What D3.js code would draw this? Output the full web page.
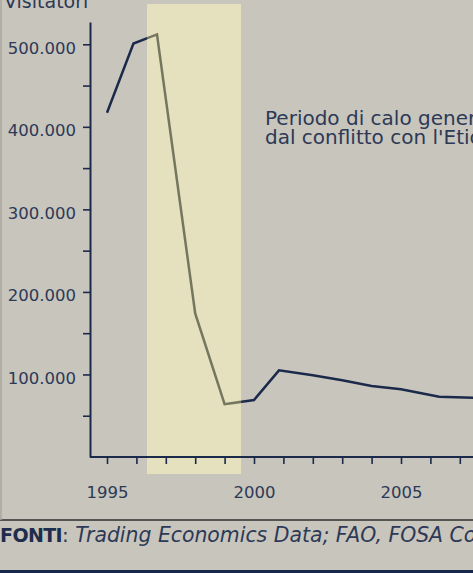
<!DOCTYPE html>
<html>
<head>
<meta charset="utf-8">
<script src="https://cdn.jsdelivr.net/npm/d3@7"></script>
<style>
  html, body { margin: 0; padding: 0; background: #c8c5bc; }
  svg { display: block; font-family: "DejaVu Sans", sans-serif; }
</style>
</head>
<body>
<svg width="473" height="573"></svg>
<script>
// visitors per year
const years = [1995, 1995.9, 1996.7, 1998, 1999, 2000, 2000.85, 2002, 2003, 2004, 2005, 2006.3, 2008];
const visitors = [417000, 501000, 512000, 174000, 64000, 69000, 105000, 99000, 93000, 86000, 82000, 73000, 71000];

const xTicks = d3.range(1995, 2008);
const xLabels = [1995, 2000, 2005];
const yTicks = d3.range(50000, 500001, 50000);

const highlight = [1996.36, 1999.56];
const noteLines = ["Periodo di calo generato", "dal conflitto con l'Etiopia"];
const yTitle = "Visitatori";
const sourceBold = "FONTI";
const sourceText = "Trading Economics Data; FAO, FOSA Country Report";

const navy = '#1b2a4b';
const textCol = '#2c3957';

const svg = d3.select('svg');

svg.append('rect')
    .attr('width', 473).attr('height', 573)
    .attr('fill', '#c8c5bc');

const x = d3.scaleLinear().domain([1995, 2000]).range([107, 254]);
const y = d3.scaleLinear().domain([0, 527000]).range([457, 22]);

const it = d3.formatLocale({decimal: ',', thousands: '.', grouping: [3], currency: ['€', '']});
const fmt = it.format(',');

const data = years.map((yr, i) => ({year: yr, value: visitors[i]}));

const line = d3.line()
    .x(d => x(d.year))
    .y(d => y(d.value));

// line under the highlight band
svg.append('path')
    .datum(data)
    .attr('d', line)
    .attr('fill', 'none')
    .attr('stroke', navy)
    .attr('stroke-width', 2.5)
    .attr('stroke-linejoin', 'miter');

// highlight band
svg.append('rect')
    .attr('x', x(highlight[0]))
    .attr('y', 4)
    .attr('width', x(highlight[1]) - x(highlight[0]))
    .attr('height', 470)
    .attr('fill', '#e5e0be');

svg.append('clipPath').attr('id', 'band')
  .append('rect')
    .attr('x', x(highlight[0]))
    .attr('y', 4)
    .attr('width', x(highlight[1]) - x(highlight[0]))
    .attr('height', 470);

svg.append('path')
    .datum(data)
    .attr('clip-path', 'url(#band)')
    .attr('d', line)
    .attr('fill', 'none')
    .attr('stroke', '#75765f')
    .attr('stroke-width', 2.5);

// axes
const yAxis = d3.axisLeft(y)
    .tickValues(yTicks)
    .tickSize(7)
    .tickSizeOuter(0)
    .tickPadding(7)
    .tickFormat(d => d % 100000 === 0 ? fmt(d) : '');

const gy = svg.append('g')
    .attr('transform', 'translate(90,0)')
    .call(yAxis);

const xAxis = d3.axisBottom(x)
    .tickValues(xTicks)
    .tickSize(7)
    .tickSizeOuter(0)
    .tickPadding(22)
    .tickFormat(d => xLabels.includes(d) ? d : '');

const gx = svg.append('g')
    .attr('transform', 'translate(0,457)')
    .call(xAxis);

gx.select('.domain').attr('d', 'M90,0H473');

[gx, gy].forEach(g => {
    g.select('.domain').attr('stroke', navy).attr('stroke-width', 2);
    g.selectAll('.tick line').attr('stroke', navy).attr('stroke-width', 1.6);
    g.selectAll('.tick text')
        .attr('fill', textCol)
        .style('font-family', '"DejaVu Sans", sans-serif')
        .style('font-size', '16.5px');
});
gy.selectAll('.tick text').attr('dy', '0.55em');

// titles and notes
svg.append('text')
    .attr('x', 4).attr('y', 8)
    .attr('fill', textCol)
    .style('font-size', '19px')
    .text(yTitle);

svg.append('text')
    .attr('x', 265).attr('y', 125)
    .attr('fill', textCol)
    .style('font-size', '20px')
    .selectAll('tspan')
    .data(noteLines)
    .enter().append('tspan')
        .attr('x', 265)
        .attr('dy', (d, i) => i ? 18.5 : 0)
        .text(d => d);

// footer
svg.append('line')
    .attr('x1', 0).attr('x2', 473)
    .attr('y1', 520).attr('y2', 520)
    .attr('stroke', '#2e2e2e')
    .attr('stroke-width', 1.5);

svg.append('line')
    .attr('x1', 1).attr('x2', 1)
    .attr('y1', 0).attr('y2', 520)
    .attr('stroke', '#a9a69e')
    .attr('stroke-width', 1.5);

const src = svg.append('text')
    .attr('x', 0).attr('y', 542)
    .attr('fill', textCol)
    .style('font-size', '20px');
src.append('tspan')
    .style('font-weight', 'bold')
    .style('font-size', '19px')
    .style('letter-spacing', '-0.6px')
    .attr('fill', '#1e2c4e')
    .text(sourceBold);
src.append('tspan').text(': ');
src.append('tspan')
    .style('font-style', 'italic')
    .style('font-size', '20.4px')
    .text(sourceText);

svg.append('rect')
    .attr('x', 0).attr('y', 570)
    .attr('width', 473).attr('height', 3)
    .attr('fill', '#17284a');
</script>
</body>
</html>
